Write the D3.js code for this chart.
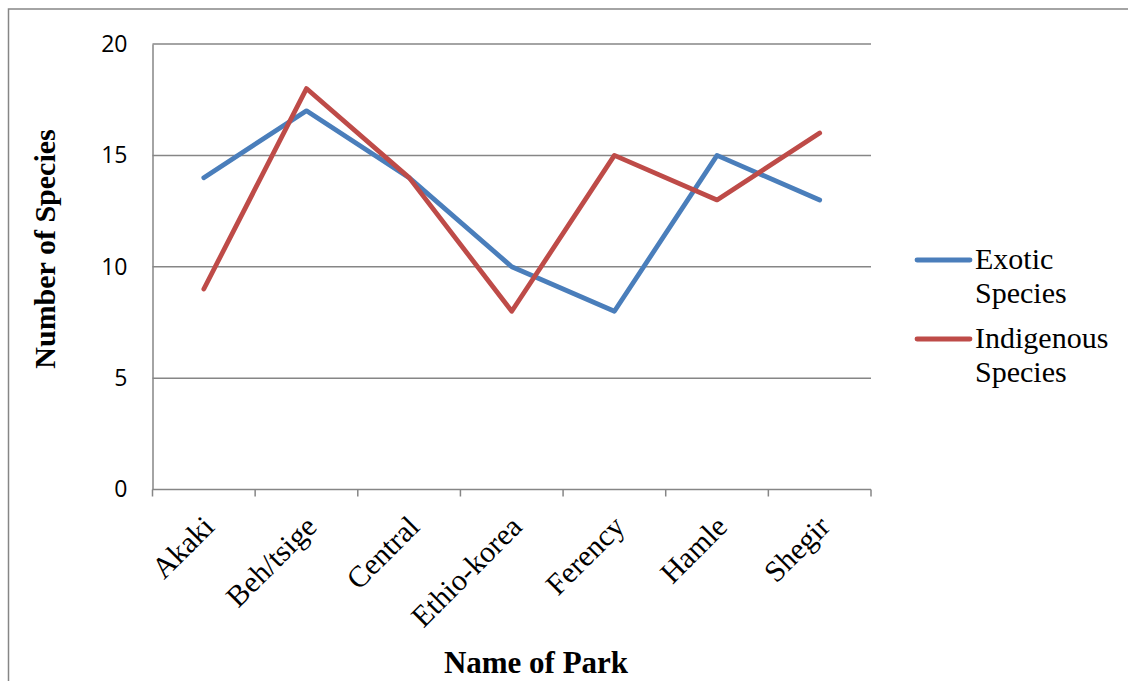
<!DOCTYPE html>
<html>
<head>
<meta charset="utf-8">
<script src="https://cdn.jsdelivr.net/npm/d3@7/dist/d3.min.js"></script>
<style>
  html, body { margin: 0; padding: 0; background: #fff; }
  svg { display: block; }
  .serif { font-family: "Liberation Serif", "Times New Roman", serif; }
</style>
</head>
<body>
<svg id="chart" width="1128" height="681"></svg>
<script>
// Park names along the x axis
const parks = ["Akaki", "Beh/tsige", "Central", "Ethio-korea", "Ferency", "Hamle", "Shegir"];
// Species counts per park
const exoticSpecies = [14, 17, 14, 10, 8, 15, 13];
const indigenousSpecies = [9, 18, 14, 8, 15, 13, 16];
// Y axis ticks
const yTicks = [0, 5, 10, 15, 20];

const seriesNames = ["Exotic Species", "Indigenous Species"];
const seriesColors = ["#4A7EBB", "#BE4B48"];
const seriesValues = [exoticSpecies, indigenousSpecies];

const svg = d3.select("#chart");
const gridColor = "#868686";
const sans = "'Open Sans', 'Liberation Sans', sans-serif";

// Outer chart frame
svg.append("rect")
  .attr("x", 8.5).attr("y", 9)
  .attr("width", 1200).attr("height", 800)
  .attr("fill", "none").attr("stroke", gridColor).attr("stroke-width", 1.5);

const plot = { left: 152.5, right: 871, top: 44, bottom: 489.5 };

const x = d3.scaleBand().domain(parks).range([plot.left, plot.right]);
const y = d3.scaleLinear().domain([0, 20]).range([plot.bottom, plot.top]);

// Horizontal grid lines
svg.append("g")
  .selectAll("line")
  .data(yTicks.filter(d => d > 0))
  .join("line")
  .attr("x1", plot.left).attr("x2", plot.right)
  .attr("y1", d => y(d)).attr("y2", d => y(d))
  .attr("stroke", gridColor).attr("stroke-width", 1.5);

// Y axis
const yAxis = svg.append("g")
  .attr("transform", `translate(${plot.left},0)`)
  .call(d3.axisLeft(y).tickValues(yTicks).tickSize(0).tickPadding(25));
yAxis.select(".domain").attr("stroke", gridColor).attr("stroke-width", 1.5);
yAxis.selectAll("text")
  .attr("font-family", sans).attr("font-size", 23).attr("fill", "#000");

// X axis with ticks at category boundaries
const xAxisG = svg.append("g").attr("transform", `translate(0,${plot.bottom})`);
xAxisG.append("line")
  .attr("x1", plot.left).attr("x2", plot.right)
  .attr("y1", 0).attr("y2", 0)
  .attr("stroke", gridColor).attr("stroke-width", 1.5);
const boundaries = parks.map(p => x(p)).concat([x(parks[parks.length - 1]) + x.bandwidth()]);
xAxisG.selectAll("line.tick")
  .data(boundaries)
  .join("line")
  .attr("class", "tick")
  .attr("x1", d => d).attr("x2", d => d)
  .attr("y1", 0).attr("y2", 7)
  .attr("stroke", gridColor).attr("stroke-width", 1.5);
xAxisG.selectAll("text")
  .data(parks)
  .join("text")
  .attr("class", "serif")
  .attr("transform", d => `translate(${x(d) + x.bandwidth() / 2 + 12},${39}) rotate(-45)`)
  .attr("text-anchor", "end")
  .attr("font-size", 30).attr("fill", "#000")
  .text(d => d);

// Series lines
const line = d3.line()
  .x((d, i) => x(parks[i]) + x.bandwidth() / 2)
  .y(d => y(d));

seriesValues.forEach((vals, k) => {
  svg.append("path")
    .datum(vals)
    .attr("d", line)
    .attr("fill", "none")
    .attr("stroke", seriesColors[k])
    .attr("stroke-width", 4.8)
    .attr("stroke-linejoin", "round")
    .attr("stroke-linecap", "round");
});

// Axis titles
svg.append("text")
  .attr("class", "serif")
  .attr("transform", `translate(55,249) rotate(-90)`)
  .attr("text-anchor", "middle")
  .attr("font-weight", "bold").attr("font-size", 30)
  .attr("fill", "#000")
  .text("Number of Species");

svg.append("text")
  .attr("class", "serif")
  .attr("x", 536).attr("y", 673)
  .attr("text-anchor", "middle")
  .attr("font-weight", "bold").attr("font-size", 31)
  .attr("fill", "#000")
  .text("Name of Park");

// Legend
const legend = svg.append("g");
seriesNames.forEach((name, k) => {
  const yy = 260 + k * 79;
  legend.append("line")
    .attr("x1", 917).attr("x2", 970)
    .attr("y1", yy).attr("y2", yy)
    .attr("stroke", seriesColors[k]).attr("stroke-width", 4.8)
    .attr("stroke-linecap", "round");
  name.split(" ").forEach((w, j) => {
    legend.append("text")
      .attr("class", "serif")
      .attr("x", 975).attr("y", yy + 9 + j * 34)
      .attr("font-size", 30).attr("fill", "#000")
      .text(w);
  });
});
</script>
</body>
</html>
